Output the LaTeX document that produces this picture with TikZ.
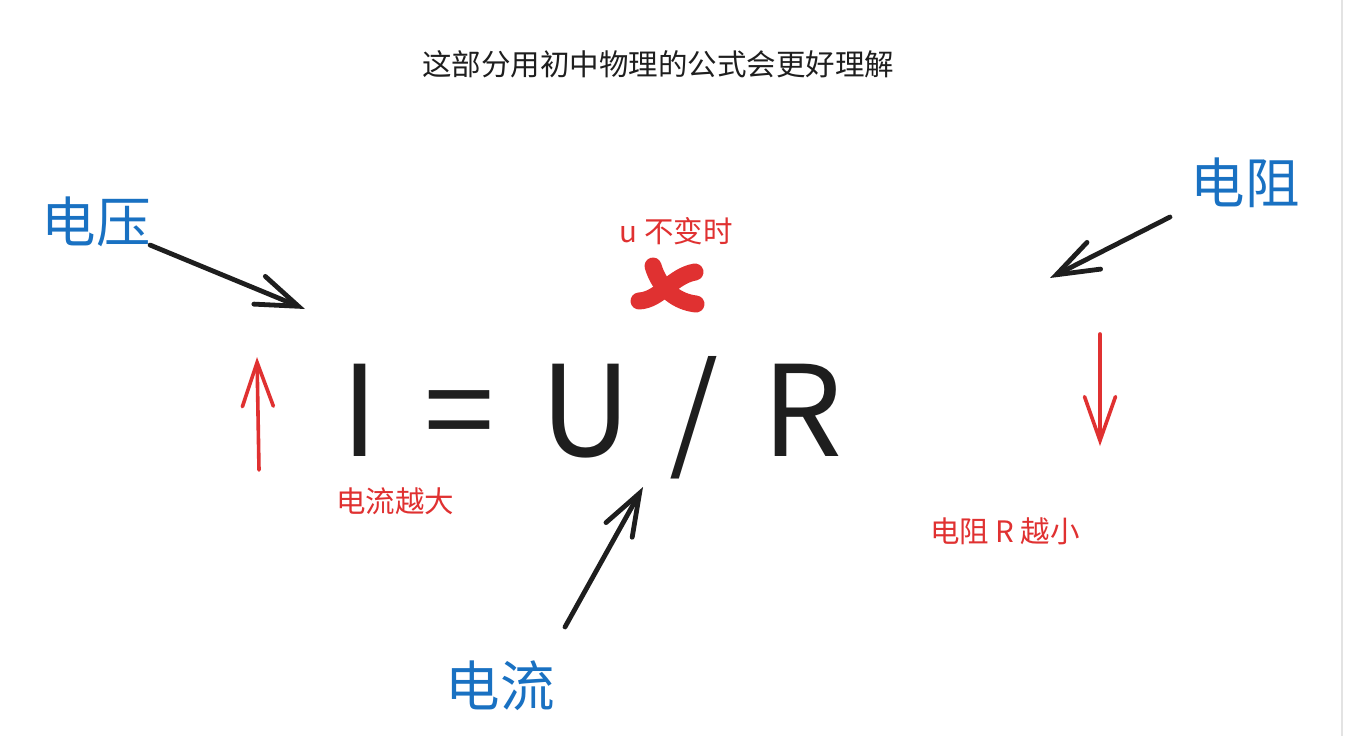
\documentclass[tikz,border=0pt]{standalone}
\usepackage{fontspec}
\setmainfont{Noto Sans CJK SC}
\usetikzlibrary{arrows.meta}
\definecolor{exred}{HTML}{E03131}
\definecolor{exblue}{HTML}{1971C2}
\definecolor{exink}{HTML}{1E1E1E}
\tikzset{
  bluelabel/.style={text=exblue, font=\fontsize{54.5}{60}\selectfont, inner sep=0pt},
  redlabel/.style={text=exred, font=\fontsize{29.5}{34}\selectfont, inner sep=0pt},
  titlelabel/.style={text=exink, font=\fontsize{29.5}{34}\selectfont, inner sep=0pt},
  formula/.style={text=exink, font=\fontsize{126}{140}\selectfont, inner sep=0pt, anchor=base},
  inkarrow/.style={draw=exink, line width=4.8pt, line cap=round,
    -{Straight Barb[length=42pt,width=30pt,line cap=round]}},
  redarrow/.style={draw=exred, line width=3.6pt, line cap=round,
    -{Straight Barb[length=44pt,width=31pt,line cap=round]}},
  crossmark/.style={draw=exred, line width=17pt, line cap=round}
}
\begin{document}
\begin{tikzpicture}[x=1pt,y=-1pt]
\useasboundingbox (0,0) rectangle (1346,736);
\fill[white] (0,0) rectangle (1346,736);
\draw[gray!22, line width=1.5pt] (1342,0) -- (1342,736);

% texts
\node[titlelabel] (title) at (658,64) {这部分用初中物理的公式会更好理解};
\node[bluelabel] (volt) at (96,222) {电压};
\node[bluelabel] (resist) at (1245,183) {电阻};
\node[bluelabel] (curr) at (500,686) {电流};
\node[redlabel] (unchg) at (676,231) {u 不变时};
\node[redlabel] (bigger) at (395,501) {电流越大};
\node[redlabel] (smaller) at (1005,531) {电阻 R 越小};

% formula
\node[formula] (fI) at (359.5,456) {I};
\node[formula] (feq) at (459,456) {=};
\node[formula] (fU) at (586,456) {U};
\node[formula] (fsl) at (694,456) {/};
\node[formula] (fR) at (802,456) {R};

% arrow end points
\coordinate (vS) at (150,245);
\coordinate (vE) at (305,309);
\coordinate (rS) at (1170,217);
\coordinate (rE) at (1050,278);
\coordinate (cS) at (565,627);
\coordinate (cE) at (643,487);
\coordinate (uS) at (259,470);
\coordinate (uE) at (257,357);
\coordinate (dS) at (1100,334);
\coordinate (dE) at (1100,446);

\draw[inkarrow] (vS) -- (vE);
\draw[inkarrow] (rS) -- (rE);
\draw[inkarrow] (cS) -- (cE);
\draw[redarrow] (uS) -- (uE);
\draw[redarrow] (dS) -- (dE);

% red cross
\draw[crossmark] (653,266) .. controls (660,290) and (678,302) .. (696,304);
\draw[crossmark] (695,272) .. controls (672,276) and (660,300) .. (639,301);
\end{tikzpicture}
\end{document}
